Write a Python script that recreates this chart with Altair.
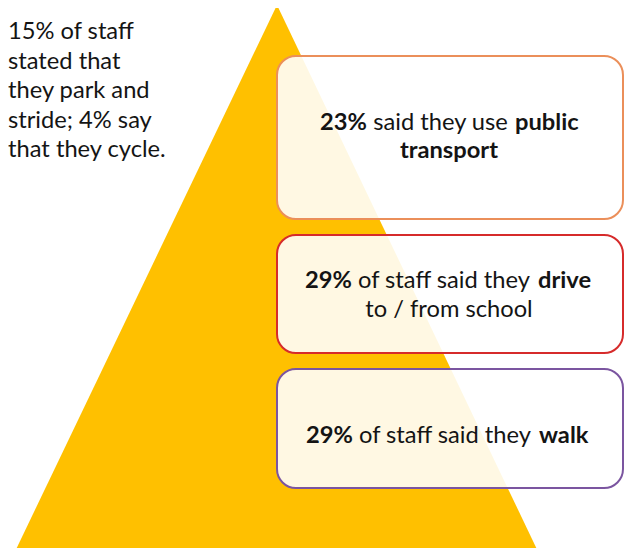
import altair as alt
import pandas as pd

# ---- content (text values) ----
side_note = ["15% of staff", "stated that", "they park and", "stride; 4% say", "that they cycle."]
box_names = ["public transport", "drive", "walk"]
box_colors = ["#EB8F5A", "#D62B2B", "#7B55A0"]
# each segment: (text, bold?)
box1_l1 = [("23%", True), ("said they use", False), ("public", True)]
box1_l2 = [("transport", True)]
box2_l1 = [("29%", True), ("of staff said they", False), ("drive", True)]
box2_l2 = [("to / from school", False)]
box3_l1 = [("29%", True), ("of staff said they", False), ("walk", True)]

# ---- layout (pixel coordinates of the 632x556 picture) ----
tri_y = [5, 562]
tri_left = [277, 10]
tri_right = [277, 543]
box_x0 = [277, 277, 277]
box_x1 = [623, 623, 623]
box_y0 = [56, 235, 369]
box_y1 = [219, 353, 488]
side_x = 8
side_y = [39, 68.5, 98, 127.5, 157]
# anchors for the three-part lines: (right edge of first, centre of middle, left edge of last)
anchors = [(367, 440.5, 515), (352, 444, 538), (353, 445, 539)]
line1_y = [130, 288, 443]
line2_y = [158, 317]
center_x = 449
FONT = "Lato"
FS = 23.7

X = alt.Scale(domain=[8, 624], nice=False, zero=False)
Y = alt.Scale(domain=[8, 548], nice=False, zero=False, reverse=True)

tri = pd.DataFrame({"y": tri_y, "xl": tri_left, "xr": tri_right})
triangle = alt.Chart(tri).mark_area(orient="horizontal", color="#FFC000", opacity=1).encode(
    y=alt.Y("y:Q", scale=Y, axis=None),
    x=alt.X("xl:Q", scale=X, axis=None),
    x2="xr:Q",
)

boxes_df = pd.DataFrame({"name": box_names, "x0": box_x0, "x1": box_x1,
                         "y0": box_y0, "y1": box_y1, "c": box_colors})
boxes = alt.Chart(boxes_df).mark_rect(
    cornerRadius=19, fill="white", fillOpacity=0.89, strokeWidth=2
).encode(
    x=alt.X("x0:Q", scale=X, axis=None), x2="x1:Q",
    y=alt.Y("y0:Q", scale=Y, axis=None), y2="y1:Q",
    stroke=alt.Stroke("c:N", scale=None),
)

rows = []
for line, (a1, a2, a3), yy in zip([box1_l1, box2_l1, box3_l1], anchors, line1_y):
    rows.append(dict(t=line[0][0], x=a1, y=yy, al="right", b=line[0][1]))
    rows.append(dict(t=line[1][0], x=a2, y=yy, al="center", b=line[1][1]))
    rows.append(dict(t=line[2][0], x=a3, y=yy, al="left", b=line[2][1]))
for line, yy in zip([box1_l2, box2_l2], line2_y):
    rows.append(dict(t=line[0][0], x=center_x, y=yy, al="center", b=line[0][1]))
for t, yy in zip(side_note, side_y):
    rows.append(dict(t=t, x=side_x, y=yy, al="left", b=False))
tdf = pd.DataFrame(rows)

layers = [triangle, boxes]
for al in ["left", "right", "center"]:
    for b in [True, False]:
        sub = tdf[(tdf.al == al) & (tdf.b == b)]
        if len(sub) == 0:
            continue
        layers.append(
            alt.Chart(sub).mark_text(
                align=al, baseline="alphabetic", font=FONT, fontSize=FS,
                fontWeight="bold" if b else "normal", color="#141414"
            ).encode(
                x=alt.X("x:Q", scale=X, axis=None),
                y=alt.Y("y:Q", scale=Y, axis=None),
                text="t:N",
            )
        )

chart = alt.layer(*layers).properties(
    width=616, height=540, padding=0, background="white",
    autosize=alt.AutoSizeParams(type="none")
).configure_view(stroke=None)

chart.save("out.html", embed_options={"renderer": "svg", "actions": False})
